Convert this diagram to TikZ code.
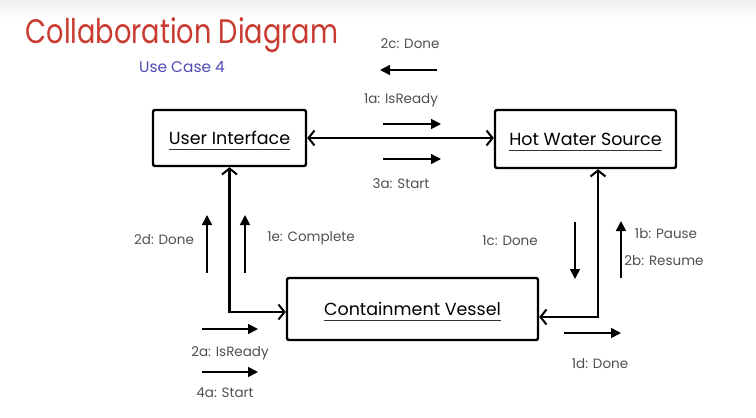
\documentclass[tikz,border=0pt]{standalone}
\usepackage{fontspec}
\setmainfont{Poppins}
\usetikzlibrary{arrows.meta}
\definecolor{titlered}{HTML}{C93A30}
\definecolor{subblue}{HTML}{4E4CB5}
\definecolor{lblgray}{HTML}{505050}
\tikzset{
  box/.style={draw=black, line width=2.4pt, rounded corners=2pt, inner sep=0pt},
  boxtext/.style={inner sep=0pt, font=\fontsize{17.5}{20}\selectfont},
  conn/.style={draw=black, line width=2.2pt, {Straight Barb[length=6pt,width=15pt,line width=2pt]}-{Straight Barb[length=6pt,width=15pt,line width=2pt]}},
  msg/.style={draw=black, line width=1.6pt, -{Triangle[length=10pt,width=10pt]}},
  lbl/.style={text=lblgray, inner sep=0pt, font=\fontsize{13.5}{16}\selectfont},
  uline/.style={draw=black!80, line width=1.2pt}
}
\begin{document}
\begin{tikzpicture}[x=1pt,y=-1pt]
\useasboundingbox (0,0) rectangle (756,418);
\fill[white] (0,0) rectangle (756,418);
\shade[top color=black!6, bottom color=white] (0,0) rectangle (756,18);
% title
\node[text=titlered, inner sep=0pt, font=\fontsize{34}{40}\selectfont] (title) at (182,35) {\scalebox{0.8}[1]{Collaboration Diagram}};
\node[text=subblue, inner sep=0pt, font=\fontsize{15.4}{18}\selectfont] (sub) at (182,67) {Use Case 4};
% boxes
\node[box, minimum width=153pt, minimum height=56pt] (ui) at (229.5,138) {};
\node[box, minimum width=181pt, minimum height=58pt] (hws) at (585.5,139) {};
\node[box, minimum width=251pt, minimum height=62pt] (cv) at (412.5,309) {};
\node[boxtext] (uit) at (ui.center) {User Interface};
\node[boxtext] (hwst) at (hws.center) {Hot Water Source};
\node[boxtext] (cvt) at (cv.center) {Containment Vessel};
\foreach \n in {uit,hwst,cvt}{
  \draw[uline] ([yshift=-5pt]\n.base west) -- ([yshift=-5pt]\n.base east);
}
% connectors
\draw[conn] (ui.east) -- (ui.east -| hws.west);
\draw[conn] (ui.south) |- ([yshift=-3pt]cv.west);
\draw[conn] ([xshift=12.5pt]hws.south) |- ([yshift=-8pt]cv.east);
% message arrows
\coordinate (m2cS) at (437,70); \coordinate (m2cE) at (380,70);
\coordinate (m1aS) at (383,124); \coordinate (m1aE) at (441,124);
\coordinate (m3aS) at (383,159); \coordinate (m3aE) at (441,159);
\coordinate (m2dS) at (207,273); \coordinate (m2dE) at (207,215);
\coordinate (m1eS) at (245,273); \coordinate (m1eE) at (245,215);
\coordinate (m1cS) at (575,222); \coordinate (m1cE) at (575,279);
\coordinate (m1bS) at (621,278); \coordinate (m1bE) at (621,221);
\coordinate (m2aS) at (202,329); \coordinate (m2aE) at (258,329);
\coordinate (m4aS) at (202,372); \coordinate (m4aE) at (258,372);
\coordinate (m1dS) at (564,333); \coordinate (m1dE) at (621,333);
\foreach \m in {2c,1a,3a,2d,1e,1c,1b,2a,4a,1d}{
  \draw[msg] (m\m S) -- (m\m E);
}
% labels
\node[lbl] (l2c) at (410,44) {2c: Done};
\node[lbl] (l1a) at (401,100) {1a: IsReady};
\node[lbl] (l3a) at (401,184) {3a: Start};
\node[lbl] (l2d) at (164,240) {2d: Done};
\node[lbl] (l1e) at (311,238) {1e: Complete};
\node[lbl] (l1c) at (510,241) {1c: Done};
\node[lbl] (l1b) at (666,234) {1b: Pause};
\node[lbl] (l2b) at (664,261) {2b: Resume};
\node[lbl] (l2a) at (230,353) {2a: IsReady};
\node[lbl] (l4a) at (225,393) {4a: Start};
\node[lbl] (l1d) at (600,364) {1d: Done};
\end{tikzpicture}
\end{document}
